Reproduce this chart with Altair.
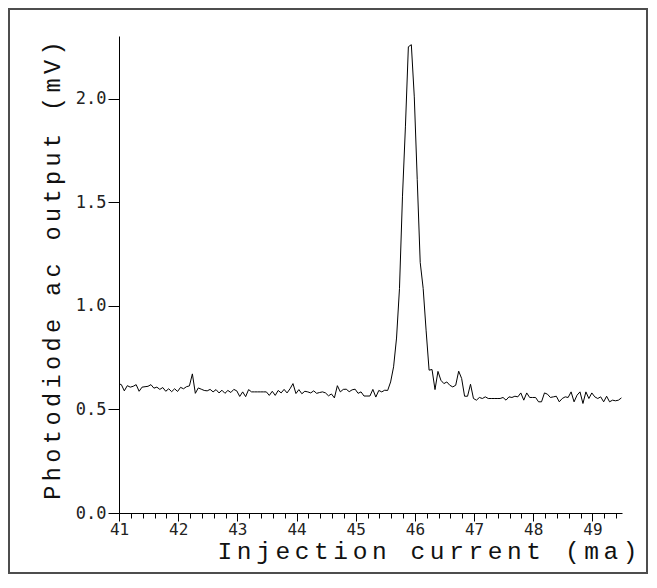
import altair as alt
import pandas as pd

# sweep of the injection current (ma): first sample and step
x_start = 40.99
x_step = 0.05

# photodiode ac output (mV)
signal = [
    0.625,
    0.620, 0.590, 0.615, 0.608, 0.612, 0.620, 0.588, 0.608, 0.610, 0.612,
    0.620, 0.603, 0.608, 0.597, 0.606, 0.588, 0.600, 0.586, 0.600, 0.587,
    0.607, 0.600, 0.610, 0.614, 0.672, 0.578, 0.604, 0.598, 0.592, 0.590,
    0.597, 0.585, 0.596, 0.580, 0.593, 0.578, 0.592, 0.582, 0.597, 0.590,
    0.563, 0.585, 0.562, 0.596, 0.585, 0.585, 0.585, 0.585, 0.585, 0.585,
    0.568, 0.588, 0.568, 0.592, 0.580, 0.597, 0.580, 0.600, 0.625, 0.577,
    0.596, 0.576, 0.588, 0.585, 0.580, 0.590, 0.578, 0.582, 0.585, 0.580,
    0.566, 0.575, 0.556, 0.615, 0.585, 0.597, 0.598, 0.586, 0.595, 0.598,
    0.578, 0.585, 0.565, 0.565, 0.565, 0.597, 0.560, 0.592, 0.585, 0.593,
    0.592,
    0.633, 0.706, 0.845, 1.085, 1.527, 1.865, 2.252, 2.262, 2.010, 1.610,
    1.210, 1.085, 0.880, 0.690, 0.693, 0.596, 0.684, 0.641, 0.625, 0.633,
    0.617, 0.609, 0.617, 0.685, 0.650, 0.564, 0.564, 0.622, 0.553, 0.545,
    0.558, 0.553, 0.561, 0.553, 0.553, 0.553, 0.553, 0.553, 0.558, 0.545,
    0.561, 0.558, 0.564, 0.561, 0.580, 0.545, 0.580, 0.558, 0.558, 0.558,
    0.537, 0.537, 0.580, 0.574, 0.558, 0.561, 0.564, 0.537, 0.553, 0.561,
    0.558, 0.585, 0.537, 0.569, 0.585, 0.529, 0.585, 0.553, 0.580, 0.561,
    0.553, 0.561, 0.537, 0.564, 0.537, 0.545, 0.542, 0.545, 0.556,
]
currents = [round(x_start + x_step * i, 3) for i in range(len(signal))]

x_major_ticks = [41, 42, 43, 44, 45, 46, 47, 48, 49]
x_minor_ticks = [round(41 + 0.2 * k, 1) for k in range(43)]
y_ticks = [0.0, 0.5, 1.0, 1.5, 2.0]
x_title = "Injection current (ma)"
y_title = "Photodiode ac output (mV)"

HAIR3 = "\u200a\u200a\u200a"


def spaced(s, sep=HAIR3):
    return sep.join(s)


df = pd.DataFrame({"current": currents, "signal": signal})

MONO = "DejaVu Sans Mono"
TITLE_FONT = "Liberation Mono"

x_scale = alt.Scale(domain=[41, 49.5], nice=False, zero=False)
y_scale = alt.Scale(domain=[0, 2.304], nice=False)

line = alt.Chart(df).mark_line(color="black", strokeWidth=1.0, clip=True).encode(
    x=alt.X(
        "current:Q",
        scale=x_scale,
        axis=alt.Axis(
            orient="bottom",
            values=x_major_ticks,
            format="d",
            tickSize=8,
            labelPadding=0,
            labelFlush=False,
            labelFont=MONO,
            labelFontSize=16,
            labelColor="#222",
            title=spaced(x_title),
            titleFont=TITLE_FONT,
            titleFontSize=24.5,
            titleFontWeight="normal",
            titleColor="#111",
            titleX=518,
            titleY=45,
            titleAlign="right",
            titleBaseline="alphabetic",
            grid=False,
        ),
    ),
    y=alt.Y(
        "signal:Q",
        scale=y_scale,
        axis=alt.Axis(
            values=y_ticks,
            format=".1f",
            tickSize=11,
            labelPadding=2,
            labelFont=MONO,
            labelFontSize=17,
            labelColor="#222",
            title=spaced(y_title),
            titleFont=TITLE_FONT,
            titleFontSize=23.5,
            titleFontWeight="normal",
            titleColor="#111",
            titleX=-60,
            titleY=234,
            titleAngle=270,
            titleAlign="center",
            titleBaseline="alphabetic",
            grid=False,
        ),
    ),
)

minor = alt.Chart(df).mark_point(opacity=0).encode(
    x=alt.X(
        "current:Q",
        scale=x_scale,
        axis=alt.Axis(
            orient="bottom",
            values=x_minor_ticks,
            labels=False,
            domain=False,
            tickSize=5,
            title=None,
            grid=False,
        ),
    ),
)

frame = alt.Chart(pd.DataFrame({"k": [0]})).mark_rect(
    filled=False, stroke="#4d4d4d", strokeWidth=2
).encode(
    x=alt.value(-110), x2=alt.value(528), y=alt.value(-27), y2=alt.value(537)
)

chart = alt.layer(frame, line, minor).resolve_axis(x="independent").properties(
    width=503,
    height=477,
    autosize=alt.AutoSizeParams(type="none"),
    padding={"left": 111, "top": 28, "right": 26, "bottom": 61},
).configure_view(stroke=None).configure_axis(
    domainColor="black", domainWidth=1, tickColor="black", tickWidth=1
)

chart.save("out.html", embed_options={"renderer": "svg", "actions": False})
